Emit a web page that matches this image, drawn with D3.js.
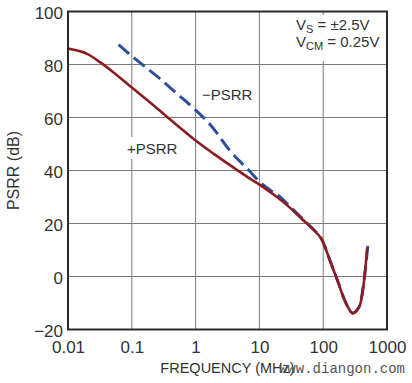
<!DOCTYPE html>
<html><head><meta charset="utf-8">
<script src="https://cdn.jsdelivr.net/npm/d3@7"></script>
<style>
html,body{margin:0;padding:0;background:#fff;}
svg{display:block;font-family:"Liberation Sans",Arial,sans-serif;}
</style></head>
<body>
<svg id="chart" width="412" height="383"></svg>
<script>
// ---- data ----
const xTicks = [0.01, 0.1, 1, 10, 100, 1000];
const xTickLabels = ["0.01", "0.1", "1", "10", "100", "1000"];
const yTicks = [-20, 0, 20, 40, 60, 80, 100];
const yTickLabels = ["\u221220", "0", "20", "40", "60", "80", "100"];

const freqPlus = [0.01, 0.02, 0.032, 0.05, 0.1, 0.2, 0.35, 0.5, 1, 2, 4, 7, 10, 20, 30, 45, 70, 95, 130, 170, 210, 250, 290, 330, 380, 430, 490];
const psrrPlus = [86, 84, 80.8, 77.3, 71.3, 65.4, 60.4, 57.3, 51.3, 46, 41, 37, 34.7, 29.5, 26, 22, 17.7, 13.9, 5.5, -2, -8.2, -12, -13.9, -13, -10.5, -3, 10.7];

const freqMinus = [0.062, 0.1, 0.28, 0.5, 1, 1.7, 3.5, 7, 10, 15, 20, 30, 45, 70, 95, 130, 170, 210, 250, 290, 330, 380, 430, 500];
const psrrMinus = [87.5, 83.2, 74.5, 69.2, 62.8, 57.3, 47.3, 39.8, 35.8, 32.5, 30.5, 26.5, 22.3, 17.8, 14, 5.6, -1.9, -8.1, -12, -13.8, -13, -10.3, -2.8, 11.6];

const seriesLabels = ["\u2212PSRR", "+PSRR"];
const xTitle = "FREQUENCY (MHz)";
const yTitle = "PSRR (dB)";
const watermark = "www.diangon.com";

// ---- layout ----
const svg = d3.select("#chart");
const L = 68, R = 387, T = 11.5, B = 329.5;
const x = d3.scaleLog().domain([0.01, 1000]).range([L, R]);
const y = d3.scaleLinear().domain([-20, 100]).range([B, T]);

// grid
const g = svg.append("g");
g.selectAll(".vg").data(xTicks.slice(1, -1)).join("line")
  .attr("x1", d => x(d)).attr("x2", d => x(d)).attr("y1", T).attr("y2", B)
  .attr("stroke", "#7a7a7a").attr("stroke-width", 1);
g.selectAll(".hg").data(yTicks.slice(1, -1)).join("line")
  .attr("x1", L).attr("x2", R).attr("y1", d => y(d)).attr("y2", d => y(d))
  .attr("stroke", "#7a7a7a").attr("stroke-width", 1);

// white boxes behind labels / annotation
svg.append("rect").attr("x", 291).attr("y", 15).attr("width", 94).attr("height", 46).attr("fill", "#fff");
svg.append("rect").attr("x", 125).attr("y", 137).attr("width", 52).attr("height", 22).attr("fill", "#fff");
svg.append("rect").attr("x", 201).attr("y", 85).attr("width", 52).attr("height", 20).attr("fill", "#fff");

// curves
const line = d3.line().x(d => x(d[0])).y(d => y(d[1])).curve(d3.curveMonotoneX);
svg.append("path").datum(freqMinus.map((f, i) => [f, psrrMinus[i]]))
  .attr("d", line).attr("fill", "none").attr("stroke", "#2f4f9e")
  .attr("stroke-width", 3).attr("stroke-dasharray", "14,6");
svg.append("path").datum(freqPlus.map((f, i) => [f, psrrPlus[i]]))
  .attr("d", line).attr("fill", "none").attr("stroke", "#8c1c22")
  .attr("stroke-width", 2.6);

// frame
svg.append("rect").attr("x", L).attr("y", T).attr("width", R - L).attr("height", B - T)
  .attr("fill", "none").attr("stroke", "#2a2a2a").attr("stroke-width", 2);

// axes labels
const xAxis = d3.axisBottom(x).tickValues(xTicks).tickSize(0).tickPadding(0)
  .tickFormat((d, i) => xTickLabels[i]);
const gx = svg.append("g").attr("transform", `translate(0,${B})`).call(xAxis);
gx.select(".domain").remove();
gx.selectAll("text").attr("dy", null).attr("y", 23).attr("font-size", 17)
  .attr("font-family", "Liberation Sans, Arial, sans-serif").attr("fill", "#333");

const yAxis = d3.axisLeft(y).tickValues(yTicks).tickSize(0).tickPadding(0)
  .tickFormat((d, i) => yTickLabels[i]);
const gy = svg.append("g").attr("transform", `translate(${L - 5},0)`).call(yAxis);
gy.select(".domain").remove();
gy.selectAll("text").attr("x", 0).attr("dy", "0.4em").attr("font-size", 17)
  .attr("font-family", "Liberation Sans, Arial, sans-serif").attr("fill", "#333");

// titles
svg.append("text").attr("x", (L + R) / 2).attr("y", 373).attr("text-anchor", "middle")
  .attr("font-size", 14.5).attr("fill", "#333").text(xTitle);
svg.append("text").attr("transform", `translate(19,${(T + B) / 2}) rotate(-90)`)
  .attr("text-anchor", "middle").attr("font-size", 16).attr("fill", "#333").text(yTitle);

// series labels
svg.append("text").attr("x", 202).attr("y", 100).attr("font-size", 15).attr("fill", "#333").text(seriesLabels[0]);
svg.append("text").attr("x", 127).attr("y", 154).attr("font-size", 15).attr("fill", "#333").text(seriesLabels[1]);

// annotation
const a1 = svg.append("text").attr("x", 296).attr("y", 30).attr("font-size", 15).attr("fill", "#333");
a1.append("tspan").text("V");
a1.append("tspan").attr("font-size", 11).attr("dy", 3).text("S");
a1.append("tspan").attr("dy", -3).text(" = \u00b12.5V");
const a2 = svg.append("text").attr("x", 296).attr("y", 47).attr("font-size", 15).attr("fill", "#333");
a2.append("tspan").text("V");
a2.append("tspan").attr("font-size", 11).attr("dy", 3).text("CM");
a2.append("tspan").attr("dy", -3).text(" = 0.25V");

// watermark
svg.append("text").attr("x", 405).attr("y", 373).attr("text-anchor", "end")
  .attr("font-family", "Liberation Mono, monospace").attr("font-size", 14)
  .attr("fill", "#555").text(watermark);
</script>
</body></html>
